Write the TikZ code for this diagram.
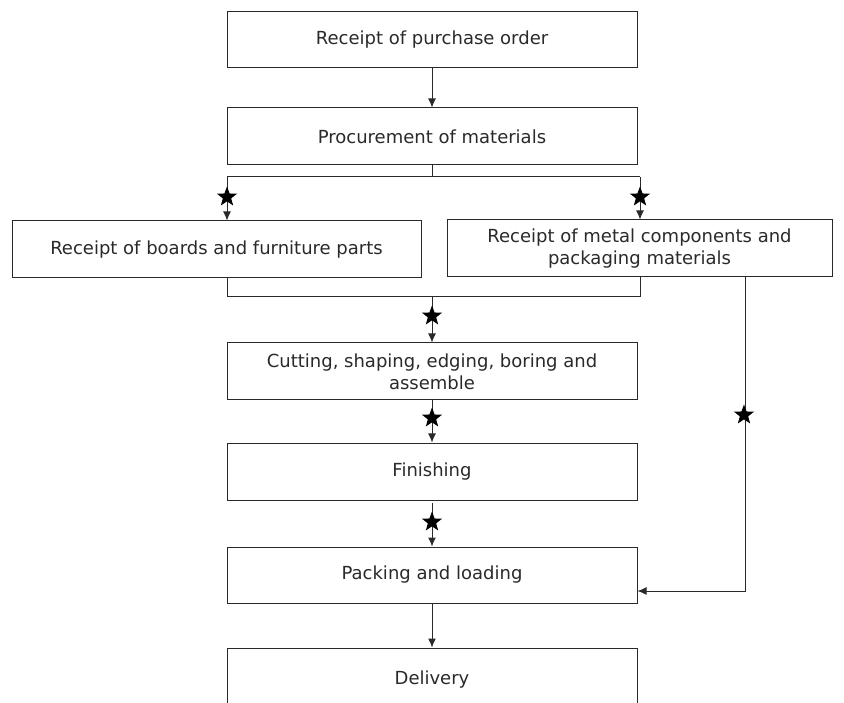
\documentclass[tikz,border=0pt]{standalone}
\usepackage{fontspec}
\setmainfont{DejaVu Sans}
\usetikzlibrary{arrows.meta,shapes.geometric}
\definecolor{ink}{HTML}{2A2A2A}
\begin{document}
\begin{tikzpicture}[x=1pt,y=-1pt,
  box/.style={draw=ink, line width=1pt, rectangle, inner sep=0pt, align=center,
    text=ink, font=\fontsize{18}{22}\selectfont},
  link/.style={draw=ink, line width=1pt},
  arr/.style={link, -{Latex[length=9pt,width=8pt]}},
  starmark/.style={star, star points=5, star point ratio=2.4, fill=black, draw=none,
    minimum size=21pt, inner sep=0pt}]
\useasboundingbox (0,0) rectangle (844,703);
\clip (0,0) rectangle (844,703);
\fill[white] (0,0) rectangle (844,703);

\node[box, minimum width=410, minimum height=56] (b1) at (432,40) {Receipt of purchase order};
\node[box, minimum width=410, minimum height=57] (b2) at (432,136.5) {Procurement of materials};
\node[box, minimum width=409, minimum height=57] (b3) at (216.5,249.5) {Receipt of boards and furniture parts};
\node[box, minimum width=385, minimum height=57] (b4) at (639.5,248.5) {Receipt of metal components and\\packaging materials};
\node[box, minimum width=410, minimum height=57] (b5) at (432,371.5) {Cutting, shaping, edging, boring and\\assemble};
\node[box, minimum width=410, minimum height=57] (b6) at (432,471.5) {Finishing};
\node[box, minimum width=410, minimum height=56] (b7) at (432,575) {Packing and loading};
\node[box, minimum width=410, minimum height=64] (b8) at (432,680) {Delivery};

% top arrow
\draw[arr] (b1.south) -- (b2.north);

% split
\coordinate (sp) at (432,177);
\coordinate (sl) at (227,177);
\coordinate (sr) at (640,177);
\draw[link] (b2.south) -- (sp);
\draw[link] (sl) -- (sr);
\draw[arr] (sl) -- (sl |- b3.north);
\draw[arr] (sr) -- (sr |- b4.north);
\node[starmark] (s1) at (227,197) {};
\node[starmark] (s2) at (640,197) {};

% merge
\coordinate (ml) at (227,297);
\coordinate (mr) at (640,297);
\coordinate (mc) at (432,297);
\draw[link] (ml |- b3.south) -- (ml) -- (mr) -- (mr |- b4.south);
\draw[arr] (mc) -- (b5.north);
\node[starmark] (s3) at (432,316) {};

% chain
\draw[arr] (b5.south) -- (b6.north);
\node[starmark] (s4) at (432,418) {};
\coordinate (c6) at (432,503);
\draw[arr] (c6) -- (b7.north);
\node[starmark] (s5) at (432,522) {};
\draw[arr] (b7.south) -- (b8.north);

% right connector
\coordinate (rc) at (745,591);
\draw[arr] (rc |- b4.south) -- (rc) -- (rc -| b7.east);
\node[starmark] (s6) at (744,415) {};
\end{tikzpicture}
\end{document}
